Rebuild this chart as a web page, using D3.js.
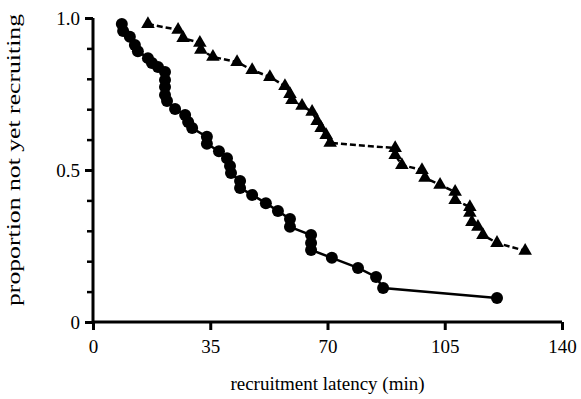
<!DOCTYPE html>
<html>
<head>
<meta charset="utf-8">
<script src="https://cdn.jsdelivr.net/npm/d3@7"></script>
<style>
  html, body { margin: 0; padding: 0; background: #fff; }
  svg { display: block; }
  text { font-family: "Liberation Serif", "Times New Roman", serif; fill: #000; }
</style>
</head>
<body>
<svg id="chart" width="581" height="399"></svg>
<script>
// circles (solid line) - latency in min, proportion not yet recruiting
const circleX = [8.6, 9.0, 11.0, 12.5, 13.4, 16.4, 17.6, 19.4, 21.5, 21.5, 21.5, 21.5, 22.1, 24.5, 27.5, 28.4, 29.6, 34.0, 34.0, 37.6, 40.0, 40.9, 41.2, 43.9, 43.9, 47.5, 51.6, 55.2, 58.8, 58.8, 65.1, 65.1, 65.1, 71.3, 79.1, 84.5, 86.6, 120.6];
const circleY = [0.980, 0.957, 0.938, 0.911, 0.891, 0.868, 0.852, 0.839, 0.822, 0.796, 0.773, 0.747, 0.727, 0.701, 0.681, 0.658, 0.638, 0.609, 0.586, 0.562, 0.539, 0.513, 0.490, 0.464, 0.441, 0.418, 0.391, 0.365, 0.339, 0.313, 0.286, 0.260, 0.237, 0.211, 0.178, 0.148, 0.112, 0.079];

// triangles (dashed line)
const triX = [16.4, 25.4, 26.9, 31.9, 32.2, 35.8, 43.0, 47.5, 52.8, 57.3, 58.8, 59.4, 62.4, 65.4, 66.9, 68.1, 69.6, 70.8, 90.2, 90.2, 92.2, 98.2, 99.1, 103.6, 108.1, 108.1, 112.5, 112.5, 113.1, 114.9, 116.4, 120.6, 129.0];
const triY = [0.980, 0.961, 0.934, 0.918, 0.895, 0.872, 0.855, 0.829, 0.806, 0.776, 0.750, 0.730, 0.711, 0.691, 0.661, 0.638, 0.615, 0.589, 0.572, 0.549, 0.516, 0.500, 0.474, 0.451, 0.428, 0.401, 0.378, 0.359, 0.329, 0.313, 0.286, 0.260, 0.234];

const xTicks = [0, 35, 70, 105, 140];
const yTicksMajor = [0, 0.5, 1.0];
const yTicksMinor = d3.range(0, 11).map(i => i / 10);

const svg = d3.select('#chart');
const margin = { left: 93, right: 19, top: 18, bottom: 77 };
const width = 581 - margin.left - margin.right,
      height = 399 - margin.top - margin.bottom;

const x = d3.scaleLinear().domain([0, 140]).range([0, width]);
const y = d3.scaleLinear().domain([0, 1]).range([height, 0]);

const g = svg.append('g').attr('transform', `translate(${margin.left},${margin.top})`);

// x axis
const xAxis = g.append('g')
  .attr('transform', `translate(0,${height})`)
  .call(d3.axisBottom(x).tickValues(xTicks).tickSize(8).tickPadding(10).tickFormat(d3.format('d')));
xAxis.select('.domain').attr('stroke', '#000').attr('stroke-width', 3).attr('d', `M0,0H${width}`);
xAxis.selectAll('.tick line').attr('stroke', '#000').attr('stroke-width', 3);
xAxis.selectAll('text').attr('font-size', 19).style('font-family', '"Liberation Serif", serif');

// y axis minor ticks
const yMinor = g.append('g')
  .call(d3.axisLeft(y).tickValues(yTicksMinor).tickSize(6).tickFormat(''));
yMinor.select('.domain').remove();
yMinor.selectAll('.tick line').attr('stroke', '#000').attr('stroke-width', 2.5);

// y axis major
const yAxis = g.append('g')
  .call(d3.axisLeft(y).tickValues(yTicksMajor).tickSize(8).tickPadding(5)
    .tickFormat(d => d === 0 ? '0' : d3.format('.1f')(d)));
yAxis.select('.domain').attr('stroke', '#000').attr('stroke-width', 3).attr('d', `M0,0V${height}`);
yAxis.selectAll('.tick line').attr('stroke', '#000').attr('stroke-width', 3);
yAxis.selectAll('text').attr('font-size', 19).style('font-family', '"Liberation Serif", serif');

// lines
const line = d3.line().x(d => x(d[0])).y(d => y(d[1]));
const circleData = circleX.map((v, i) => [v, circleY[i]]);
const triData = triX.map((v, i) => [v, triY[i]]);

g.append('path').datum(triData)
  .attr('fill', 'none').attr('stroke', '#000').attr('stroke-width', 2.5)
  .attr('stroke-dasharray', '6,3')
  .attr('d', line);

g.append('path').datum(circleData)
  .attr('fill', 'none').attr('stroke', '#000').attr('stroke-width', 2.5)
  .attr('d', line);

g.selectAll('.circ').data(circleData).enter().append('circle')
  .attr('class', 'circ')
  .attr('cx', d => x(d[0])).attr('cy', d => y(d[1]))
  .attr('r', 6).attr('fill', '#000');

const tri = d3.symbol().type(d3.symbolTriangle).size(80);
g.selectAll('.tri').data(triData).enter().append('path')
  .attr('class', 'tri')
  .attr('transform', d => `translate(${x(d[0])},${y(d[1])})`)
  .attr('d', tri).attr('fill', '#000');

// axis titles
svg.append('text')
  .attr('x', margin.left + x(70)).attr('y', 390)
  .attr('text-anchor', 'middle').attr('font-size', 19)
  .text('recruitment latency (min)');

svg.append('text')
  .attr('transform', `translate(20,160) rotate(-90)`)
  .attr('text-anchor', 'middle').attr('font-size', 19)
  .attr('textLength', 292).attr('lengthAdjust', 'spacingAndGlyphs')
  .text('proportion not yet recruiting');
</script>
</body>
</html>
